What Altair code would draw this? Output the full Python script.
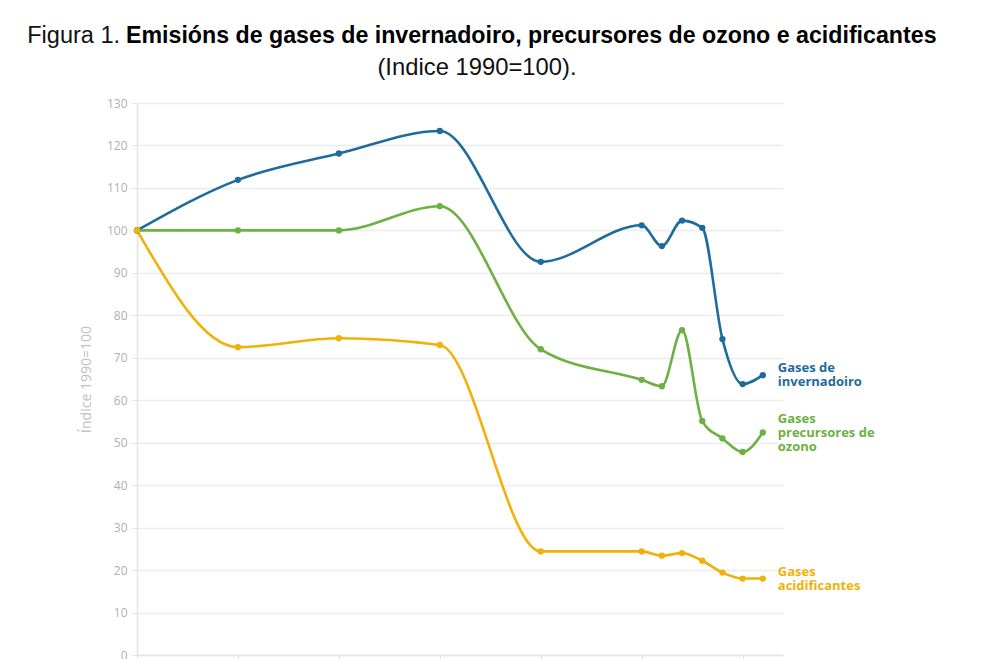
import altair as alt
import pandas as pd

years = [1990, 1995, 2000, 2005, 2010, 2015, 2016, 2017, 2018, 2019, 2020, 2021]
invernadoiro = [100, 111.9, 118.1, 123.4, 92.6, 101.2, 96.3, 102.3, 100.6, 74.4, 63.8, 65.9]
ozono = [100, 100, 100, 105.7, 72.0, 64.8, 63.3, 76.5, 55.1, 51.0, 47.8, 52.4]
acidificantes = [100, 72.5, 74.6, 73.0, 24.4, 24.4, 23.4, 24.0, 22.2, 19.4, 18.0, 18.0]

series_names = ["Gases de invernadoiro", "Gases precursores de ozono", "Gases acidificantes"]
series_labels = [["Gases de", "invernadoiro"], ["Gases", "precursores de", "ozono"], ["Gases", "acidificantes"]]
series_colors = ["#1f6b9b", "#6cb141", "#f0b20a"]
y_ticks = list(range(0, 131, 10))
x_ticks = [1990, 1995, 2000, 2005, 2010, 2015, 2020]

title_normal = "Figura 1."
title_bold = "Emisións de gases de invernadoiro, precursores de ozono e acidificantes"
subtitle = "(Indice 1990=100)."

rows = []
for name, vals in zip(series_names, [invernadoiro, ozono, acidificantes]):
    for yr, v in zip(years, vals):
        rows.append({"year": yr, "value": v, "serie": name})
df = pd.DataFrame(rows)

color = alt.Color("serie:N", scale=alt.Scale(domain=series_names, range=series_colors), legend=None)
x = alt.X("year:Q", scale=alt.Scale(domain=[1990, 2022], nice=False, zero=False),
          axis=alt.Axis(values=x_ticks, format="d", title=None, grid=False, tickColor="#e3e3e3",
                        domainColor="#e3e3e3", domainWidth=1.5, tickSize=6, labels=False))
y = alt.Y("value:Q", scale=alt.Scale(domain=[0, 130], nice=False),
          axis=alt.Axis(values=y_ticks, title="Índice 1990=100", grid=True, gridColor="#ececec",
                        gridWidth=1.5, tickColor="#e3e3e3", tickSize=5, labelPadding=5,
                        domainColor="#e3e3e3", domainWidth=1.5, labelColor="#b0b0b0",
                        labelFontSize=12, labelFont="Open Sans", titleColor="#c0c0c0",
                        titleFontSize=14, titleFontWeight="normal", titleFont="Open Sans",
                        titlePadding=13))

base = alt.Chart(df)
lines = base.mark_line(interpolate="monotone", strokeWidth=2.6).encode(x=x, y=y, color=color)
points = base.mark_circle(size=40, opacity=1).encode(x="year:Q", y="value:Q", color=color)

line_h = 14
label_layers = []
for name, lab in zip(series_names, series_labels):
    sub = df[(df["serie"] == name) & (df["year"] == years[-1])].copy()
    sub["label"] = [lab]
    label_layers.append(
        alt.Chart(sub).mark_text(align="left", baseline="middle", dx=15, dy=-(len(lab) - 1) * line_h / 2,
                                 fontSize=13, fontWeight="bold", font="Open Sans", lineHeight=line_h)
        .encode(x="year:Q", y="value:Q", text="label", color=color)
    )

tdf = pd.DataFrame({"a": [0]})
t1 = alt.Chart(tdf).mark_text(align="right", baseline="middle", fontSize=23.5, font="Liberation Sans",
                              color="#111111").encode(x=alt.value(-17), y=alt.value(-67),
                                                      text=alt.value(title_normal))
t2 = alt.Chart(tdf).mark_text(align="left", baseline="middle", fontSize=23.2, font="Liberation Sans",
                              fontWeight="bold", color="#000000").encode(
    x=alt.value(-11), y=alt.value(-67), text=alt.value(title_bold))
t3 = alt.Chart(tdf).mark_text(align="center", baseline="middle", fontSize=23.8, font="Liberation Sans",
                              color="#111111").encode(x=alt.value(340), y=alt.value(-35),
                                                      text=alt.value(subtitle))

chart = alt.layer(lines, points, *label_layers, t1, t2, t3).properties(
    width=646, height=552,
    autosize=alt.AutoSizeParams(type="none"),
    padding={"left": 129, "top": 95, "right": 185, "bottom": 8},
).configure_view(stroke=None)

chart.save("out.html", embed_options={"renderer": "svg", "actions": False})
